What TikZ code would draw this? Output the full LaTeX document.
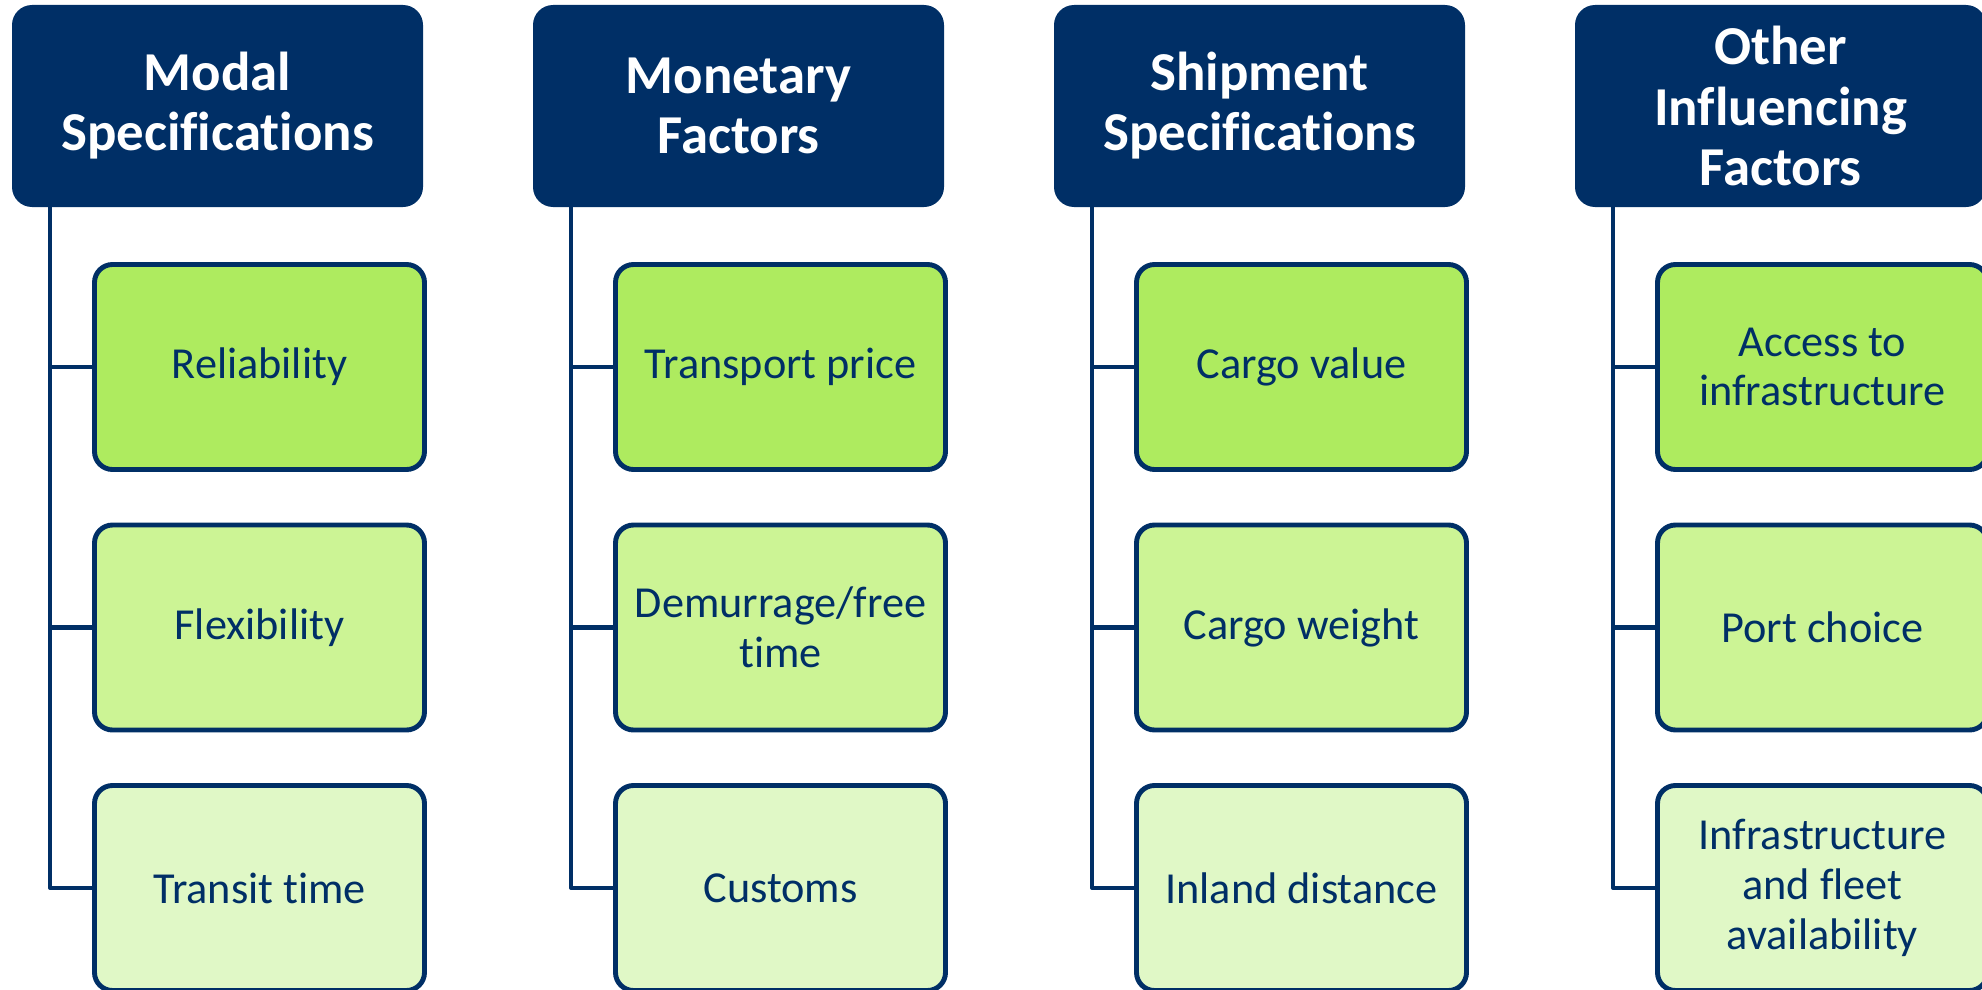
\documentclass[tikz,border=0pt]{standalone}
\usepackage{fontspec}
\setmainfont[Ligatures=NoCommon]{Carlito}
\definecolor{navy}{HTML}{002F66}
\definecolor{greenA}{HTML}{AEEB5F}
\definecolor{greenB}{HTML}{CCF495}
\definecolor{greenC}{HTML}{E0F8C6}
\begin{document}
\begin{tikzpicture}[line cap=round, line join=round]
	\tikzset{head style/.style={fill=navy, rounded corners=0.2cm, minimum width=4.11cm, minimum height=2.02cm, text=white, align=center, inner sep=0pt, font=\fontsize{15.6}{17.1}\selectfont\bfseries},
		box style/.style={draw=navy, line width=1.4pt, rounded corners=0.18cm, minimum width=3.30cm, minimum height=2.05cm, text=navy, align=center, inner sep=0pt, font=\fontsize{12.6}{14.2}\selectfont},
		trunk style/.style={draw=navy, line width=1.2pt}}
	\useasboundingbox (0,0) rectangle (19.82,9.89);
	\foreach \n/\t/\a/\b/\c in {1/{Modal\\Specifications}/Reliability/Flexibility/{Transit time},
		2/{Monetary\\Factors}/{Transport price}/{Demurrage/free\\time}/Customs,
		3/{Shipment\\Specifications}/{Cargo value}/{Cargo weight}/{Inland distance},
		4/{Other\\Influencing\\Factors}/{Access to\\infrastructure}/{Port choice}/{Infrastructure\\and fleet\\availability}} {
		\node[head style] (head\n) at ({2.175+5.21*(\n-1)},8.83) {\t};
		\node[box style, fill=greenA] (box\n1) at ({2.595+5.21*(\n-1)},6.22) {\a};
		\node[box style, fill=greenB] (box\n2) at ({2.595+5.21*(\n-1)},3.615) {\b};
		\node[box style, fill=greenC] (box\n3) at ({2.595+5.21*(\n-1)},1.01) {\c};
		\coordinate (top\n) at ([xshift=0.39cm]head\n.south west);
		\draw[trunk style] (top\n) |- (box\n3.west)
			(top\n |- box\n1.west) -- (box\n1.west)
			(top\n |- box\n2.west) -- (box\n2.west);
	}
\end{tikzpicture}
\end{document}
